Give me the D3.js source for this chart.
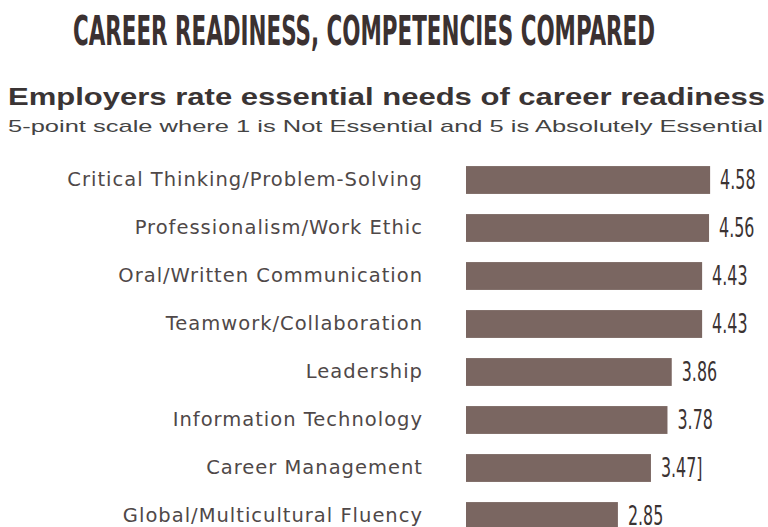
<!DOCTYPE html>
<html><head><meta charset="utf-8">
<script src="https://cdn.jsdelivr.net/npm/d3@7/dist/d3.min.js"></script>
<style>body{margin:0;background:#fff}svg{display:block}</style>
</head><body>
<script>
const categories = ["Critical Thinking/Problem-Solving","Professionalism/Work Ethic","Oral/Written Communication","Teamwork/Collaboration","Leadership","Information Technology","Career Management","Global/Multicultural Fluency"];
const values = [4.58,4.56,4.43,4.43,3.86,3.78,3.47,2.85];
const valueLabels = ["4.58","4.56","4.43","4.43","3.86","3.78","3.47]","2.85"];
const title = "CAREER READINESS, COMPETENCIES COMPARED";
const subtitle = "Employers rate essential needs of career readiness";
const note = "5-point scale where 1 is Not Essential and 5 is Absolutely Essential";

const W=768,H=527;
const svg=d3.select("body").append("svg").attr("width",W).attr("height",H);
const cond="'DejaVu Sans Condensed','DejaVu Sans',sans-serif";
svg.append("text").attr("x",73).attr("y",45).attr("textLength",582).attr("lengthAdjust","spacingAndGlyphs")
 .style("font-family",cond).style("font-weight","bold").style("font-size","41px").style("fill","#3b3131").text(title);
svg.append("text").attr("x",8).attr("y",105).attr("textLength",757).attr("lengthAdjust","spacingAndGlyphs")
 .style("font-family","'Liberation Sans',Arial,sans-serif").style("font-weight","bold").style("font-size","23px").style("fill","#3a3434").text(subtitle);
svg.append("text").attr("x",8).attr("y",132).attr("textLength",755).attr("lengthAdjust","spacingAndGlyphs")
 .style("font-family","'Liberation Sans',Arial,sans-serif").style("font-size","17px").style("fill","#444").text(note);

const x=d3.scaleLinear().domain([0,5]).range([466,466+5*53.3]);
const y=d3.scaleBand().domain(categories).range([156,540]).paddingInner(0.42).paddingOuter(0.21);
svg.selectAll("rect.bar").data(values).join("rect").attr("class","bar")
 .attr("x",x(0)).attr("y",(d,i)=>y(categories[i])).attr("width",d=>x(d)-x(0)).attr("height",y.bandwidth())
 .attr("fill","#7a6661");
const yAxis=d3.axisLeft(y).tickSize(0).tickPadding(0);
const g=svg.append("g").attr("transform","translate(423,0)").call(yAxis);
g.select(".domain").remove();
g.selectAll("text").style("font-family","'DejaVu Sans',sans-serif").style("font-size","19.5px").style("letter-spacing","1px").style("fill","#4f4848");
svg.selectAll("text.val").data(values).join("text").attr("class","val")
 .attr("transform",(d,i)=>`translate(${x(d)+10},${y(categories[i])+y.bandwidth()/2}) scale(0.68,1)`)
 .attr("dy","0.36em")
 .style("font-family",cond).style("font-size","26px").style("fill","#3b3333").text((d,i)=>valueLabels[i]);
</script>
</body></html>
